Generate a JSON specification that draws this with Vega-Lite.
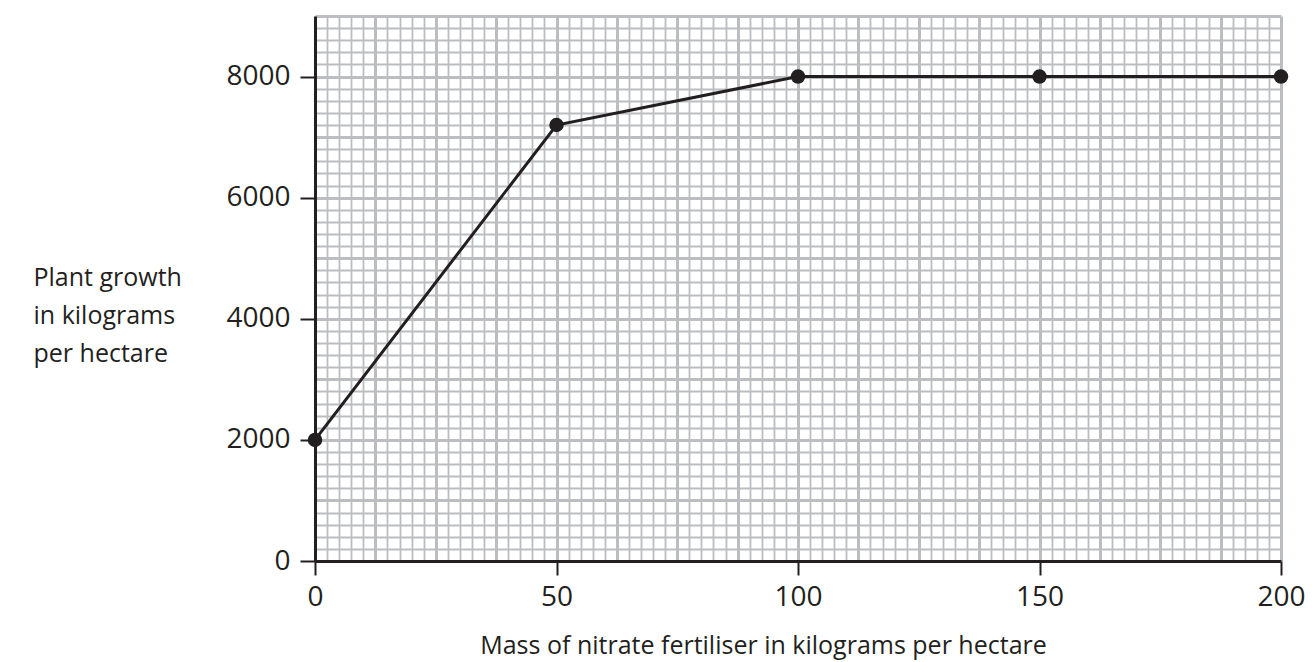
{
  "$schema": "https://vega.github.io/schema/vega-lite/v6.json",
  "width": 966,
  "height": 545,
  "autosize": "none",
  "padding": {"left": 315, "top": 16, "right": 31, "bottom": 101},
  "background": "white",
  "config": {"view": {"stroke": null}},
  "data": {"values": [
    {"mass": 0, "growth": 2000},
    {"mass": 50, "growth": 7200},
    {"mass": 100, "growth": 8000},
    {"mass": 150, "growth": 8000},
    {"mass": 200, "growth": 8000}
  ]},
  "layer": [
    {
      "mark": {"type": "line", "color": "#231f20", "strokeWidth": 3},
      "encoding": {
        "x": {"field": "mass", "type": "quantitative",
          "scale": {"domain": [0, 200], "nice": false, "zero": false},
          "axis": {
            "title": "Mass of nitrate fertiliser in kilograms per hectare",
            "values": [0,2.5,5,7.5,10,12.5,15,17.5,20,22.5,25,27.5,30,32.5,35,37.5,40,42.5,45,47.5,50,52.5,55,57.5,60,62.5,65,67.5,70,72.5,75,77.5,80,82.5,85,87.5,90,92.5,95,97.5,100,102.5,105,107.5,110,112.5,115,117.5,120,122.5,125,127.5,130,132.5,135,137.5,140,142.5,145,147.5,150,152.5,155,157.5,160,162.5,165,167.5,170,172.5,175,177.5,180,182.5,185,187.5,190,192.5,195,197.5,200],
            "tickCount": 200,
            "grid": true,
            "gridColor": "#bcbdc0",
            "gridWidth": {"condition": {"test": "datum.value % 12.5 === 0", "value": 3}, "value": 1.8},
            "gridOpacity": {"condition": {"test": "datum.value === 0", "value": 0}, "value": 1},
            "domain": true, "domainColor": "#231f20", "domainWidth": 3,
            "ticks": true, "tickColor": "#231f20", "tickWidth": 2, "tickSize": 14,
            "tickOpacity": {"condition": {"test": "datum.value % 50 === 0", "value": 1}, "value": 0},
            "labelExpr": "datum.value % 50 === 0 ? datum.label : ''",
            "labelOverlap": false, "labelFlush": false, "labelBound": false,
            "labelFont": "Open Sans", "labelFontSize": 28, "labelColor": "#231f20", "labelPadding": 8,
            "titleFont": "Open Sans", "titleFontSize": 25, "titleFontWeight": "normal", "titleColor": "#231f20",
            "titleX": 448, "titleY": 92, "titleAlign": "center", "titleBaseline": "alphabetic", "titleAnchor": null
          }
        },
        "y": {"field": "growth", "type": "quantitative",
          "scale": {"domain": [0, 9000], "nice": false},
          "axis": {
            "title": ["Plant growth", "in kilograms", "per hectare"],
            "values": [0,200,400,600,800,1000,1200,1400,1600,1800,2000,2200,2400,2600,2800,3000,3200,3400,3600,3800,4000,4200,4400,4600,4800,5000,5200,5400,5600,5800,6000,6200,6400,6600,6800,7000,7200,7400,7600,7800,8000,8200,8400,8600,8800,9000],
            "tickCount": 200,
            "grid": true,
            "gridColor": "#bcbdc0",
            "gridWidth": {"condition": {"test": "datum.value % 1000 === 0", "value": 3}, "value": 1.8},
            "gridOpacity": {"condition": {"test": "datum.value === 0", "value": 0}, "value": 1},
            "domain": true, "domainColor": "#231f20", "domainWidth": 3,
            "ticks": true, "tickColor": "#231f20", "tickWidth": 2, "tickSize": 15,
            "tickOpacity": {"condition": {"test": "datum.value % 2000 === 0 && datum.value <= 8000", "value": 1}, "value": 0},
            "labelExpr": "(datum.value % 2000 === 0 && datum.value <= 8000) ? datum.label : ''",
            "labelOverlap": false, "labelFlush": false, "labelBound": false,
            "labelFont": "Open Sans", "labelFontSize": 28, "labelColor": "#231f20", "labelPadding": 10,
            "format": "d",
            "titleFont": "Open Sans", "titleFontSize": 25, "titleFontWeight": "normal", "titleColor": "#231f20",
            "titleAngle": 0, "titleX": -282, "titleY": 269, "titleAlign": "left", "titleBaseline": "alphabetic",
            "titleLineHeight": 38, "titleAnchor": null
          }
        }
      }
    },
    {
      "mark": {"type": "circle", "color": "#231f20", "size": 210, "opacity": 1},
      "encoding": {
        "x": {"field": "mass", "type": "quantitative"},
        "y": {"field": "growth", "type": "quantitative"}
      }
    }
  ]
}
